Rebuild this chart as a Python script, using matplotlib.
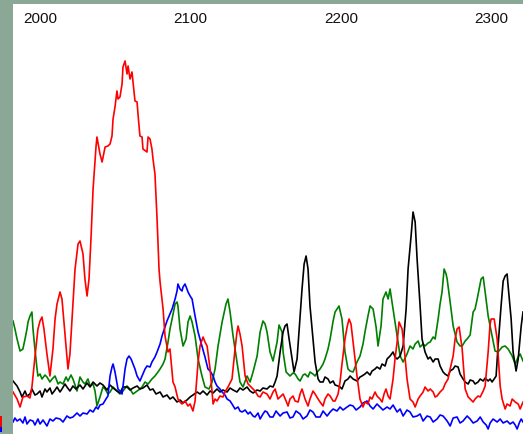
import matplotlib
matplotlib.use("Agg")
import matplotlib.pyplot as plt
from matplotlib.patches import Rectangle

# ---- data (scan position, signal intensity) ----
red_x = [1981.7,1984.4,1986.4,1988.3,1991.0,1993.0,1994.3,1996.3,1998.3,1999.7,2001.0,2002.3,2004.3,2006.3,2008.3,2009.7,2011.0,2013.0,2014.3,2016.3,2018.3,2019.6,2021.0,2023.0,2025.0,2026.3,2028.3,2029.6,2031.0,2032.3,2033.6,2035.0,2037.0,2037.6,2039.6,2041.0,2043.0,2044.9,2046.3,2047.6,2048.3,2049.6,2050.9,2051.6,2052.9,2054.3,2054.9,2056.3,2057.6,2058.3,2059.6,2060.9,2061.6,2062.9,2064.3,2064.9,2066.2,2067.6,2068.2,2070.9,2071.6,2072.9,2074.2,2074.9,2076.2,2077.6,2078.9,2079.6,2081.6,2082.9,2084.9,2086.2,2088.2,2089.6,2091.5,2092.9,2094.2,2096.2,2098.2,2099.6,2101.5,2102.9,2104.9,2106.2,2108.2,2109.5,2110.9,2112.9,2114.9,2116.2,2117.5,2119.5,2121.5,2122.8,2124.8,2127.5,2129.5,2130.8,2131.5,2132.8,2134.2,2136.2,2138.2,2139.5,2141.5,2142.8,2144.8,2146.2,2148.1,2150.8,2152.8,2154.8,2156.2,2158.1,2159.5,2161.5,2163.5,2164.8,2166.1,2168.1,2169.5,2171.5,2172.8,2174.1,2176.1,2178.1,2179.4,2181.4,2182.8,2184.8,2186.1,2188.1,2189.4,2191.4,2192.8,2194.8,2196.1,2198.1,2199.4,2200.7,2202.7,2204.1,2205.4,2206.7,2208.1,2209.4,2210.7,2212.7,2214.7,2216.0,2218.0,2219.4,2220.7,2222.7,2224.0,2226.0,2227.4,2228.7,2230.0,2231.4,2232.7,2234.7,2236.0,2237.4,2238.7,2240.7,2242.0,2244.0,2246.0,2248.0,2249.4,2251.4,2252.7,2254.7,2256.0,2258.0,2259.4,2261.4,2262.7,2264.0,2266.0,2268.0,2269.3,2271.3,2272.7,2274.7,2276.0,2277.3,2278.7,2280.7,2282.7,2284.7,2286.0,2288.0,2289.3,2291.3,2292.7,2294.7,2296.0,2298.0,2299.3,2300.0,2302.0,2304.0,2306.0,2307.3,2309.3,2310.6,2312.6,2314.0,2316.0,2318.0,2319.3,2321.2]
red_y = [42,35,27,37,38,36,47,77,105,113,117,105,80,58,85,115,130,142,135,100,65,80,115,165,190,193,180,155,138,155,195,245,288,297,280,272,287,288,290,298,315,327,343,335,337,350,367,373,360,368,355,362,352,333,332,320,298,297,285,282,297,295,285,275,260,215,165,152,125,98,82,85,52,47,35,32,30,33,28,30,23,33,72,88,97,92,88,65,30,35,33,38,37,42,47,55,85,102,108,100,88,58,50,48,45,43,38,37,42,40,35,42,45,35,37,40,33,28,35,38,33,32,40,45,35,28,35,43,40,35,32,28,35,40,38,33,33,40,52,70,95,107,115,110,92,75,58,35,27,32,30,37,35,42,38,35,32,40,45,38,35,55,75,92,112,105,88,55,35,32,27,35,38,42,47,43,45,42,37,38,42,45,50,55,65,78,95,105,107,85,45,37,35,32,35,38,37,43,48,82,110,115,115,95,48,35,25,30,28,35,32,30,25,32]

blue_x = [1981.7,1983.0,1984.4,1986.4,1988.3,1989.7,1991.0,1993.0,1995.0,1996.3,1998.3,1999.7,2001.7,2004.3,2006.3,2008.3,2010.3,2013.0,2015.0,2017.6,2019.6,2021.6,2024.3,2026.3,2028.3,2031.0,2033.0,2035.0,2037.0,2038.3,2039.6,2041.6,2043.6,2044.9,2046.3,2047.6,2048.3,2049.6,2051.6,2052.9,2054.3,2056.3,2057.6,2058.9,2060.3,2061.6,2062.9,2064.3,2066.2,2067.6,2069.6,2070.9,2072.9,2074.2,2076.2,2077.6,2079.6,2080.9,2082.9,2084.2,2086.2,2087.6,2089.6,2090.9,2091.5,2092.9,2094.2,2094.9,2096.2,2097.5,2098.2,2099.6,2100.9,2102.9,2104.9,2106.2,2107.5,2109.5,2111.5,2112.9,2114.9,2116.2,2117.5,2119.5,2120.9,2122.8,2124.2,2126.2,2127.5,2129.5,2131.5,2132.8,2134.2,2136.2,2138.2,2139.5,2141.5,2142.8,2144.8,2146.2,2148.1,2149.5,2150.8,2152.8,2154.8,2156.8,2159.5,2161.5,2164.1,2166.1,2168.1,2170.1,2172.8,2174.8,2177.4,2179.4,2181.4,2183.4,2186.1,2188.1,2190.8,2192.8,2194.8,2197.4,2199.4,2201.4,2204.1,2206.1,2208.1,2210.1,2212.7,2214.7,2217.4,2219.4,2221.4,2224.0,2226.0,2228.0,2230.7,2232.7,2234.7,2237.4,2239.4,2241.4,2244.0,2246.0,2248.0,2250.7,2252.7,2254.7,2257.3,2259.4,2261.4,2264.0,2266.0,2268.0,2270.7,2272.7,2274.7,2277.3,2279.3,2281.3,2284.0,2286.0,2288.0,2290.7,2292.7,2294.7,2296.7,2298.0,2299.3,2301.3,2304.0,2306.0,2308.0,2310.6,2312.6,2314.6,2316.0,2317.3,2318.7,2320.0,2321.2]
blue_y = [12,16,13,15,11,17,10,14,13,9,15,10,14,8,15,13,16,15,12,18,16,17,21,18,21,20,24,22,27,25,29,30,35,38,58,67,70,62,45,43,40,65,75,78,75,70,65,58,53,58,65,68,67,72,77,82,90,98,107,113,120,125,135,143,150,145,143,147,150,145,142,138,135,118,102,95,88,77,65,63,58,52,48,45,42,39,35,33,30,25,27,23,22,24,20,22,18,17,21,15,20,23,22,17,17,23,18,21,22,16,17,23,20,15,18,24,22,17,17,23,18,22,25,23,27,24,27,29,28,24,27,31,33,28,25,30,27,24,27,25,29,22,25,18,24,22,17,18,20,13,18,17,12,15,19,18,13,8,16,17,11,13,18,15,11,13,17,12,9,5,11,15,12,15,11,13,10,12,9,5,11,15,12]

green_x = [1981.7,1983.0,1984.4,1986.4,1988.3,1989.7,1991.0,1991.7,1993.0,1994.3,1995.0,1996.3,1997.7,1998.3,1999.7,2001.0,2003.0,2004.3,2006.3,2007.7,2009.7,2011.7,2013.0,2015.0,2017.0,2018.3,2020.3,2021.6,2023.0,2024.3,2026.3,2028.3,2029.6,2031.6,2033.0,2035.0,2036.3,2037.6,2039.6,2041.6,2043.0,2044.9,2046.3,2048.3,2050.9,2052.9,2054.9,2057.6,2059.6,2061.6,2064.3,2066.2,2067.6,2069.6,2071.6,2074.2,2076.2,2078.2,2079.6,2081.6,2082.9,2084.9,2086.2,2087.6,2089.6,2090.9,2091.5,2092.9,2094.9,2096.9,2098.2,2099.6,2100.9,2102.9,2104.9,2107.5,2109.5,2112.2,2114.2,2116.2,2118.2,2120.9,2123.5,2124.8,2126.2,2128.2,2130.8,2132.8,2134.8,2137.5,2139.5,2141.5,2144.2,2146.2,2148.1,2149.5,2150.8,2152.8,2154.8,2157.5,2158.8,2160.8,2161.5,2163.5,2166.1,2168.1,2169.5,2171.5,2172.8,2174.8,2176.1,2178.1,2179.4,2181.4,2182.8,2184.8,2186.1,2188.1,2189.4,2191.4,2192.8,2194.8,2196.1,2197.4,2198.7,2200.7,2202.7,2204.7,2206.1,2208.1,2210.7,2212.7,2214.7,2216.0,2218.0,2219.4,2221.4,2223.4,2224.7,2226.7,2228.0,2230.0,2231.4,2232.7,2234.7,2237.4,2239.4,2241.4,2244.0,2246.0,2248.0,2249.4,2251.4,2252.7,2254.7,2256.0,2258.0,2259.4,2261.4,2262.7,2264.7,2266.0,2267.3,2268.7,2270.0,2270.7,2272.7,2274.7,2277.3,2279.3,2280.7,2282.7,2284.0,2286.0,2288.0,2289.3,2290.7,2292.0,2293.3,2294.7,2296.0,2298.0,2300.6,2302.6,2304.6,2307.3,2309.3,2311.3,2314.0,2316.0,2318.0,2319.3,2321.2]
green_y = [113,105,95,83,85,95,105,112,118,122,105,85,65,58,60,55,59,57,52,55,58,50,52,50,57,53,59,55,49,43,57,52,50,55,48,50,43,28,37,47,45,40,42,47,43,40,43,48,45,40,43,45,47,52,50,55,58,62,65,70,75,92,105,115,130,132,128,105,88,95,112,118,112,98,75,58,47,45,52,65,88,112,130,135,122,98,72,52,47,58,52,62,78,102,113,110,102,82,73,92,109,102,82,62,58,61,60,55,53,59,60,57,62,60,58,63,65,70,75,85,95,113,122,125,128,115,82,65,63,62,72,78,90,102,118,128,125,107,88,108,135,142,135,145,125,98,78,72,80,88,85,90,93,87,90,88,91,92,97,95,115,130,142,165,160,155,132,108,92,88,88,93,95,99,122,125,135,145,155,157,142,118,98,83,82,87,88,85,78,70,77,80,73]

black_x = [1981.7,1984.4,1986.4,1987.7,1989.7,1991.0,1993.0,1994.3,1996.3,1997.7,1999.7,2001.0,2003.0,2004.3,2006.3,2007.7,2009.7,2011.0,2013.0,2014.3,2016.3,2017.6,2019.6,2021.6,2023.6,2026.3,2028.3,2031.0,2033.0,2035.0,2037.6,2039.6,2041.6,2044.3,2046.3,2048.3,2050.9,2052.9,2054.9,2057.6,2059.6,2061.6,2064.3,2066.2,2068.2,2070.9,2072.9,2074.9,2076.9,2079.6,2081.6,2084.2,2086.2,2088.2,2090.9,2092.9,2094.9,2097.5,2099.6,2101.5,2104.2,2106.2,2108.2,2110.9,2112.9,2114.9,2117.5,2119.5,2121.5,2124.2,2126.2,2128.2,2130.8,2132.8,2134.8,2137.5,2139.5,2141.5,2144.2,2146.2,2148.1,2150.8,2152.8,2154.8,2156.2,2157.5,2159.5,2161.5,2162.8,2164.1,2165.5,2167.5,2168.8,2170.8,2172.1,2174.1,2175.5,2176.8,2178.1,2179.4,2181.4,2182.8,2184.8,2186.1,2188.1,2189.4,2191.4,2192.8,2194.8,2196.1,2198.1,2199.4,2200.7,2202.7,2204.7,2206.1,2208.1,2210.7,2212.7,2214.0,2216.0,2217.4,2219.4,2220.7,2222.7,2224.0,2226.0,2227.4,2229.4,2230.7,2232.7,2234.7,2236.0,2237.4,2239.4,2241.4,2243.4,2244.7,2246.7,2248.0,2249.4,2250.7,2252.7,2254.0,2256.0,2258.0,2259.4,2261.4,2262.7,2264.7,2266.0,2268.0,2269.3,2271.3,2272.7,2274.7,2276.0,2278.0,2279.3,2281.3,2282.7,2284.7,2286.0,2288.0,2289.3,2291.3,2292.7,2294.7,2296.0,2298.0,2299.3,2300.6,2302.0,2303.3,2304.6,2306.6,2308.0,2309.3,2310.6,2311.3,2313.3,2314.6,2316.6,2318.0,2320.0,2321.2]
black_y = [53,48,42,37,43,38,40,45,39,40,43,37,45,42,46,40,44,47,42,45,50,47,43,48,45,49,45,51,47,52,48,51,49,44,49,46,43,41,47,47,44,46,48,45,46,49,44,45,40,42,37,39,35,37,32,34,31,34,37,39,42,40,43,39,43,41,45,42,44,42,46,44,42,46,44,47,43,41,44,43,46,45,48,47,52,58,82,102,108,110,95,75,62,75,102,145,170,178,165,128,95,72,55,52,52,57,55,51,53,49,48,47,45,53,55,58,55,53,57,58,60,62,59,63,65,67,65,70,68,75,78,82,77,75,78,88,125,165,198,222,212,175,128,95,82,75,77,72,75,75,68,62,60,58,63,65,68,67,60,55,52,50,54,53,50,52,55,53,56,53,55,52,55,58,88,128,153,158,160,148,115,82,63,75,108,122]

tick_values = [2000, 2100, 2200, 2300]
tick_labels = ["2000", "2100", "2200", "2300"]

FRAME = "#8ba795"
W, H = 523, 435

fig = plt.figure(figsize=(W / 100, H / 100), dpi=100, facecolor=FRAME)
ax = fig.add_axes([13 / W, 0, 510 / W, 430 / H])
ax.set_facecolor("white")
ax.set_xlim(1981.7, 2321.2)
ax.set_ylim(0, 430)
for s in ax.spines.values():
    s.set_visible(False)
ax.set_xticks([])
ax.set_yticks([])

lw = 1.2
ax.plot(green_x, green_y, color="#008000", lw=lw)
ax.plot(black_x, black_y, color="#000000", lw=lw)
ax.plot(blue_x, blue_y, color="#0000ff", lw=lw)
ax.plot(red_x, red_y, color="#ff0000", lw=lw)

for v, lab in zip(tick_values, tick_labels):
    ax.text(v, 1 - 18 / 430, lab, transform=ax.get_xaxis_transform(),
            ha="center", va="baseline", fontsize=11,
            family=["Liberation Sans", "DejaVu Sans"], color="#111111")

# small trace fragments visible at the far left edge
fig.patches.append(Rectangle((0, (H - 428) / H), 2 / W, 11 / H,
                             transform=fig.transFigure, color="#ff0000", lw=0))
fig.patches.append(Rectangle((0, (H - 433) / H), 2 / W, 5 / H,
                             transform=fig.transFigure, color="#0000ff", lw=0))

fig.savefig("out.png", dpi=100, facecolor=FRAME)
